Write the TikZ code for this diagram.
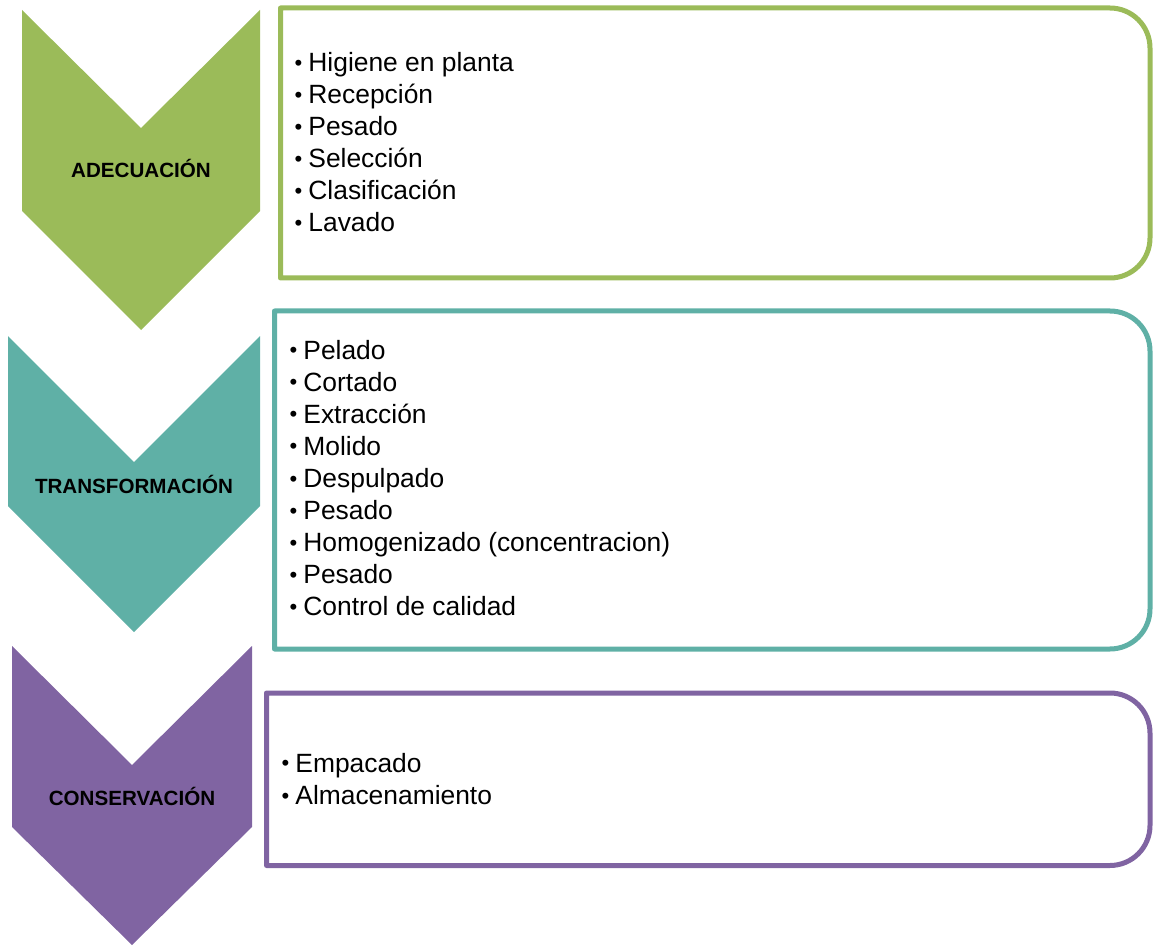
\documentclass[tikz,border=0pt]{standalone}
\usepackage{fontspec}
\setmainfont{Liberation Sans}
\usetikzlibrary{calc}
\definecolor{adegreen}{HTML}{9BBB59}
\definecolor{traaqua}{HTML}{5FB0A6}
\definecolor{conpurple}{HTML}{8064A2}
\tikzset{
  stagename/.style={font=\fontsize{10.3}{12}\selectfont\bfseries, inner sep=0pt, anchor=base},
  stageitem/.style={font=\fontsize{13.2}{16}\selectfont, inner sep=0pt, anchor=base west},
  stagebox/.style={draw=#1, line width=2.5pt, line join=round, fill=white}
}
\newcommand{\itembullet}{\llap{\raisebox{0.7pt}{\fontsize{11}{12}\selectfont\textbullet}\hspace{3pt}}}
\begin{document}
\begin{tikzpicture}[x=0.5pt, y=0.5pt]
    \useasboundingbox (0,0) rectangle (1153,-947);
    % chevrons
    \path[fill=adegreen](22,-10)--(141,-128)--(260,-10)--(260,-211)--(141,-330)--(22,-211)--cycle;
    \path[fill=traaqua](8,-336)--(134,-462)--(260,-336)--(260,-506)--(134,-632)--(8,-506)--cycle;
    \path[fill=conpurple](12,-646)--(132,-765)--(252,-646)--(252,-827)--(132,-945)--(12,-827)--cycle;
    \node[stagename] (ade) at (141,-178) {ADECUACIÓN};
    \node[stagename] (tra) at (134,-493) {TRANSFORMACIÓN};
    \node[stagename] (con) at (132,-805) {CONSERVACIÓN};
    % boxes
    \path[stagebox=adegreen](280.5,-8)--(1110,-8) arc[start angle=90,end angle=0,radius=40]
        --(1150,-238) arc[start angle=0,end angle=-90,radius=40]--(280.5,-278)--cycle;
    \path[stagebox=traaqua](274.5,-311)--(1110,-311) arc[start angle=90,end angle=0,radius=40]
        --(1150,-609) arc[start angle=0,end angle=-90,radius=40]--(274.5,-649)--cycle;
    \path[stagebox=conpurple](266.5,-693)--(1110,-693) arc[start angle=90,end angle=0,radius=40]
        --(1150,-825.5) arc[start angle=0,end angle=-90,radius=40]--(266.5,-865.5)--cycle;
    % items
    \foreach \txt [count=\i from 0] in {Higiene en planta,Recepción,Pesado,Selección,Clasificación,Lavado}
        \node[stageitem] (ade-\i) at (308,{-72-32*\i}) {\itembullet\txt};
    \foreach \txt [count=\i from 0] in {Pelado,Cortado,Extracción,Molido,Despulpado,Pesado,Homogenizado (concentracion),Pesado,Control de calidad}
        \node[stageitem] (tra-\i) at (303,{-359-32.1*\i}) {\itembullet\txt};
    \foreach \txt [count=\i from 0] in {Empacado,Almacenamiento}
        \node[stageitem] (con-\i) at (295,{-772-32.5*\i}) {\itembullet\txt};
\end{tikzpicture}
\end{document}
